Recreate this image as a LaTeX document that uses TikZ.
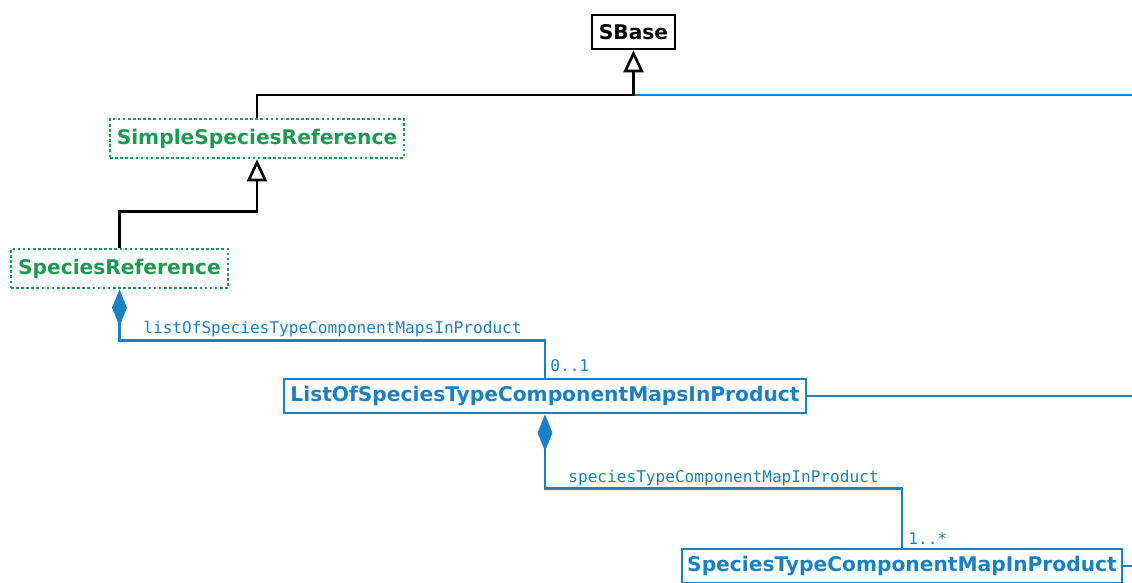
\documentclass[tikz,border=0pt]{standalone}
\usepackage{fontspec}
\usetikzlibrary{arrows.meta}
\newfontfamily\classfont{DejaVu Sans}[BoldFont={DejaVu Sans Bold}]
\newfontfamily\rolefont{DejaVu Sans Mono}
\definecolor{umlblue}{RGB}{26,128,198}
\definecolor{umlgreen}{RGB}{29,153,80}
\tikzset{
	classbox/.style={draw, line width=1.5pt, inner sep=0pt, font=\classfont\bfseries\fontsize{11.5}{13}\selectfont},
	baseclass/.style={classbox, black, text=black},
	abstractclass/.style={classbox, umlgreen, dash pattern=on 1.5pt off 1.4pt, text=umlgreen},
	concreteclass/.style={classbox, umlblue, text=umlblue},
	gen/.style={draw, black, line width=1.5pt, -{Triangle[open, length=12.5pt, width=11.3pt]}},
	comp/.style={draw, umlblue, line width=1.5pt, {Diamond[length=21pt, width=8.5pt]}-},
	assoc/.style={draw, umlblue, line width=1.5pt},
	rolelabel/.style={umlblue, inner sep=0pt, anchor=base west, font=\rolefont\fontsize{9.17}{11}\selectfont}
}
\begin{document}
\begin{tikzpicture}[x=0.02cm, y=-0.02cm]
	\useasboundingbox (0,0) rectangle (1132,582);
	\clip (0,0) rectangle (1132,582);

	% Classes
	\node[baseclass, minimum width=1.66cm, minimum height=0.68cm] (sbase) at (633.5,32) {SBase};
	\node[abstractclass, minimum width=5.88cm, minimum height=0.78cm] (ssr) at (257,138.5) {SimpleSpeciesReference};
	\node[abstractclass, minimum width=4.34cm, minimum height=0.78cm] (sr) at (119.5,268.5) {SpeciesReference};
	\node[concreteclass, minimum width=10.44cm, minimum height=0.68cm] (lo) at (545,396) {ListOfSpeciesTypeComponentMapsInProduct};
	\node[concreteclass, minimum width=8.8cm, minimum height=0.68cm] (stcm) at (902,566) {SpeciesTypeComponentMapInProduct};

	% Free ends on the right
	\coordinate (j1) at (633.5,95);
	\coordinate (e1) at (1132,95);
	\coordinate (e2) at (1132,396);
	\coordinate (e3) at (1132,566);

	% Inheritance
	\draw[assoc] (j1) -- (e1);
	\draw[gen] (ssr.north) |- (j1) -- (sbase.south);
	\draw[gen] (sr.north) -- ++(0,-36) -| (ssr.south);

	% Composition
	\draw[comp] (sr.south) -- ++(0,51) -| (lo.north);
	\node[rolelabel] (l1) at (143,333.5) {listOfSpeciesTypeComponentMapsInProduct};
	\node[rolelabel] (m1) at (550,371.5) {0..1};
	\draw[comp] (lo.south) -- ++(0,74) -| (stcm.north);
	\node[rolelabel] (l2) at (568,482.5) {speciesTypeComponentMapInProduct};
	\node[rolelabel] (m2) at (908,544) {1..*};

	% Links off to the right
	\draw[assoc] (lo.east) -- (e2);
	\draw[assoc] (stcm.east) -- (e3);
\end{tikzpicture}
\end{document}
